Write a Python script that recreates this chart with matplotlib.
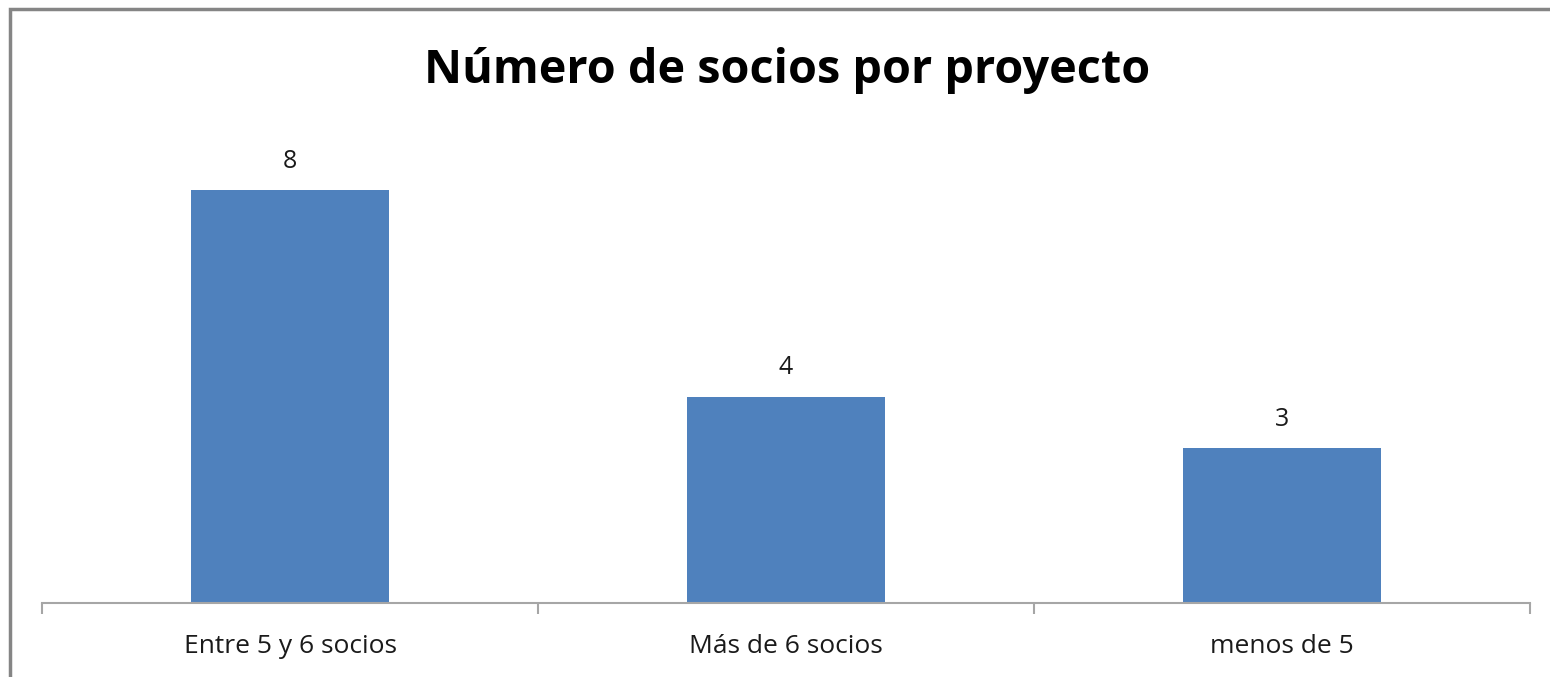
import matplotlib
matplotlib.use("Agg")
import matplotlib.pyplot as plt
from matplotlib.lines import Line2D

# --- data ---
categories = ["Entre 5 y 6 socios", "Más de 6 socios", "menos de 5"]
socios = [8, 4, 3]
title = "Número de socios por proyecto"

W, H = 1550, 677
fig = plt.figure(figsize=(W / 100, H / 100), dpi=100)
fig.patch.set_facecolor("white")

# axes placed by pixel measurements of the reference
left, right, base, top = 42, 1530, 603, 138.6
ax = fig.add_axes([left / W, 1 - base / H, (right - left) / W, (base - top) / H])

x = range(len(categories))
bars = ax.bar(x, socios, width=0.4, color="#4F81BD", zorder=2)
ax.set_xlim(-0.5, len(categories) - 0.5)
ax.set_ylim(0, 9)

# x axis: gray line with tick marks between categories
for s in ["top", "right", "left"]:
    ax.spines[s].set_visible(False)
ax.spines["bottom"].set_color("#A6A6A6")
ax.spines["bottom"].set_linewidth(1.5)
ax.set_yticks([])
ax.set_xticks([i - 0.5 for i in range(len(categories) + 1)], minor=False)
ax.set_xticklabels([])
ax.tick_params(axis="x", which="major", length=8, width=1.5, color="#A6A6A6", direction="out")
ax.set_xticks(list(x), minor=True)
ax.set_xticklabels(categories, minor=True, fontsize=19, family="Open Sans", color="#1a1a1a")
ax.tick_params(axis="x", which="minor", length=0, pad=22.5)

# value labels
for b, v in zip(bars, socios):
    ax.annotate(str(v), (b.get_x() + b.get_width() / 2, b.get_height()),
                xytext=(0, 12), textcoords="offset points", ha="center", va="bottom",
                fontsize=18, family="Open Sans", color="#1a1a1a")

fig.text(787 / W, 1 - 71 / H, title, ha="center", va="center",
         fontsize=33.7, fontweight="bold", family="Open Sans", color="black")

# chart border (only left and top visible in the crop)
bx, by = 9.5 / W, 1 - 8.5 / H
fig.add_artist(Line2D([bx, bx, 1], [0, by, by], transform=fig.transFigure,
                      color="#858585", linewidth=2.5, solid_joinstyle="miter"))

fig.savefig("out.png", dpi=100)
